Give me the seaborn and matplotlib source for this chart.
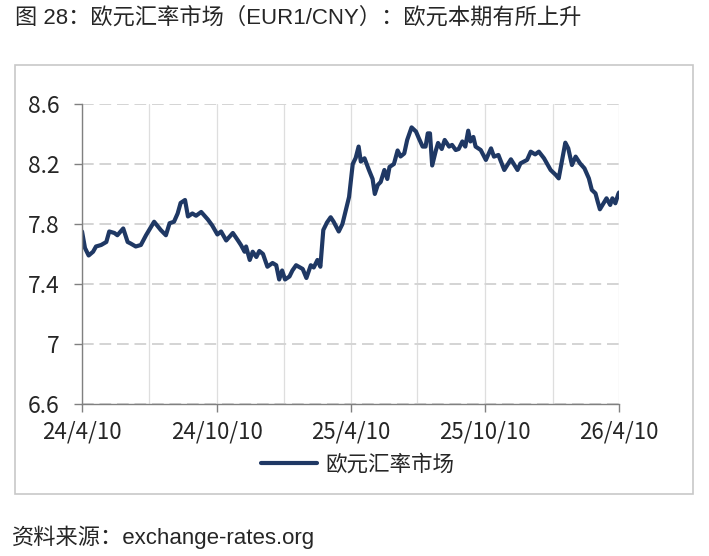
"""EUR1/CNY exchange-rate chart (figure 28)."""
import pandas as pd
import matplotlib
matplotlib.use("Agg")
import matplotlib.pyplot as plt
from matplotlib.patches import Rectangle
import seaborn as sns

# --- data ---
dates = [
    "2024-04-10", "2024-04-14", "2024-04-19", "2024-04-25", "2024-04-29",
    "2024-05-06", "2024-05-13", "2024-05-17", "2024-05-24", "2024-05-28",
    "2024-06-05", "2024-06-11", "2024-06-15", "2024-06-22", "2024-06-29",
    "2024-07-06", "2024-07-17", "2024-07-26", "2024-08-02", "2024-08-07",
    "2024-08-13", "2024-08-18", "2024-08-22", "2024-08-28", "2024-09-01",
    "2024-09-07", "2024-09-12", "2024-09-19", "2024-09-28", "2024-10-04",
    "2024-10-11", "2024-10-16", "2024-10-23", "2024-11-01", "2024-11-08",
    "2024-11-12", "2024-11-17", "2024-11-19", "2024-11-24", "2024-11-28",
    "2024-12-03", "2024-12-07", "2024-12-12", "2024-12-18", "2024-12-25",
    "2024-12-30", "2025-01-03", "2025-01-07", "2025-01-11", "2025-01-17",
    "2025-01-21", "2025-01-26", "2025-02-04", "2025-02-09", "2025-02-15",
    "2025-02-19", "2025-02-24", "2025-02-28", "2025-03-04", "2025-03-09",
    "2025-03-14", "2025-03-18", "2025-03-25", "2025-03-30", "2025-04-04",
    "2025-04-08", "2025-04-13", "2025-04-17", "2025-04-21", "2025-04-24",
    "2025-04-29", "2025-05-05", "2025-05-10", "2025-05-13", "2025-05-17",
    "2025-05-21", "2025-05-26", "2025-05-30", "2025-06-02", "2025-06-08",
    "2025-06-13", "2025-06-17", "2025-06-22", "2025-06-26", "2025-07-02",
    "2025-07-08", "2025-07-12", "2025-07-17", "2025-07-21", "2025-07-24",
    "2025-07-27", "2025-07-30", "2025-08-04", "2025-08-07", "2025-08-12",
    "2025-08-16", "2025-08-22", "2025-08-26", "2025-08-31", "2025-09-04",
    "2025-09-09", "2025-09-13", "2025-09-17", "2025-09-20", "2025-09-24",
    "2025-09-27", "2025-10-04", "2025-10-11", "2025-10-18", "2025-10-22",
    "2025-10-28", "2025-11-05", "2025-11-14", "2025-11-23", "2025-11-27",
    "2025-12-06", "2025-12-11", "2025-12-17", "2025-12-22", "2025-12-29",
    "2026-01-07", "2026-01-14", "2026-01-18", "2026-01-23", "2026-01-27",
    "2026-01-31", "2026-02-05", "2026-02-10", "2026-02-16", "2026-02-22",
    "2026-02-28", "2026-03-04", "2026-03-09", "2026-03-12", "2026-03-15",
    "2026-03-20", "2026-03-24", "2026-03-29", "2026-04-01", "2026-04-05",
    "2026-04-09", "2026-04-10",
]
eur_cny = [
    7.75, 7.64, 7.59, 7.615, 7.65,
    7.66, 7.68, 7.75, 7.74, 7.725,
    7.77, 7.68, 7.67, 7.65, 7.66,
    7.725, 7.815, 7.76, 7.725, 7.805,
    7.815, 7.87, 7.94, 7.96, 7.85,
    7.87, 7.855, 7.88, 7.83, 7.79,
    7.73, 7.75, 7.69, 7.74, 7.69,
    7.66, 7.615, 7.65, 7.56, 7.615,
    7.58, 7.62, 7.60, 7.515, 7.54,
    7.525, 7.43, 7.49, 7.43, 7.45,
    7.49, 7.525, 7.50, 7.44, 7.525,
    7.51, 7.56, 7.515, 7.76, 7.81,
    7.845, 7.815, 7.75, 7.80, 7.90,
    7.98, 8.20, 8.24, 8.316, 8.216,
    8.238, 8.16, 8.10, 8.00, 8.06,
    8.08, 8.16, 8.10, 8.18, 8.20,
    8.29, 8.25, 8.27, 8.36, 8.444,
    8.416, 8.37, 8.316, 8.316, 8.404,
    8.404, 8.19, 8.29, 8.34, 8.30,
    8.36, 8.316, 8.327, 8.293, 8.30,
    8.35, 8.316, 8.422, 8.35, 8.38,
    8.316, 8.293, 8.227, 8.304, 8.249,
    8.26, 8.16, 8.231, 8.16, 8.204,
    8.227, 8.282, 8.264, 8.282, 8.238,
    8.16, 8.127, 8.104, 8.238, 8.342,
    8.304, 8.193, 8.249, 8.204, 8.171,
    8.104, 8.027, 8.004, 7.949, 7.898,
    7.938, 7.971, 7.927, 7.971, 7.938,
    8.00, 8.01,
]
series_name = "欧元汇率市场"
major_ticks = ["2024-04-10", "2024-10-10", "2025-04-10", "2025-10-10", "2026-04-10"]
major_labels = ["24/4/10", "24/10/10", "25/4/10", "25/10/10", "26/4/10"]
minor_ticks = ["2024-07-10", "2025-01-10", "2025-07-10", "2026-01-10"]
y_ticks = [6.6, 7.0, 7.4, 7.8, 8.2, 8.6]
y_labels = ["6.6", "7", "7.4", "7.8", "8.2", "8.6"]

title = "图 28：欧元汇率市场（EUR1/CNY）：欧元本期有所上升"
source = "资料来源：exchange-rates.org"

LINE_COLOR = "#1f3864"
CJK = ["Liberation Sans", "Noto Sans CJK SC", "DejaVu Sans"]
NARROW = ["Liberation Sans Narrow", "Noto Sans CJK SC", "DejaVu Sans"]

sns.set_theme(style="white")
plt.rcParams["font.family"] = CJK

df = pd.DataFrame({"date": pd.to_datetime(dates), "rate": eur_cny})

fig = plt.figure(figsize=(7.09, 5.56), dpi=100)
ax = fig.add_axes([0.1157, 0.2734, 0.7574, 0.5396])

# outer frame around the chart
fig.patches.append(Rectangle((0.0212, 0.1115), 0.956, 0.7716, transform=fig.transFigure,
                             fill=False, edgecolor="#c8c8c8", linewidth=1.2))

sns.lineplot(data=df, x="date", y="rate", ax=ax, color=LINE_COLOR,
             linewidth=3.0, label=series_name, legend=False)

ax.set_xlim(pd.Timestamp(major_ticks[0]), pd.Timestamp(major_ticks[-1]))
ax.set_ylim(6.6, 8.6)
ax.set_xticks(pd.to_datetime(major_ticks))
ax.set_xticklabels(major_labels, family=NARROW, fontsize=16)
ax.set_xticks(pd.to_datetime(minor_ticks), minor=True)
ax.set_yticks(y_ticks)
ax.set_yticklabels(y_labels, family=NARROW, fontsize=16.5)
ax.set_xlabel("")
ax.set_ylabel("")

ax.yaxis.grid(True, color="#d4d4d4", linewidth=1.4, linestyle=(0, (6, 3)))
ax.xaxis.grid(True, which="both", color="#dedede", linewidth=0.9)
ax.tick_params(axis="both", which="major", length=6, width=1, color="#808080",
               direction="out", bottom=True, left=True)
ax.tick_params(axis="x", which="major", pad=6)
ax.tick_params(axis="y", which="major", pad=10)
ax.tick_params(axis="x", which="minor", length=0)
for side in ["top", "right"]:
    ax.spines[side].set_visible(False)
for side in ["left", "bottom"]:
    ax.spines[side].set_color("#808080")
    ax.spines[side].set_linewidth(1.0)

handles, labels = ax.get_legend_handles_labels()
fig.legend(handles, labels, loc="center", bbox_to_anchor=(0.505, 0.163), frameon=False,
           prop={"family": CJK, "size": 15.5}, handlelength=2.6, handletextpad=0.4)

fig.text(0.021, 0.967, title, fontsize=16, va="center", ha="left", family=CJK)
fig.text(0.017, 0.034, source, fontsize=16, va="center", ha="left", family=CJK)

fig.savefig("out.png", dpi=100)
